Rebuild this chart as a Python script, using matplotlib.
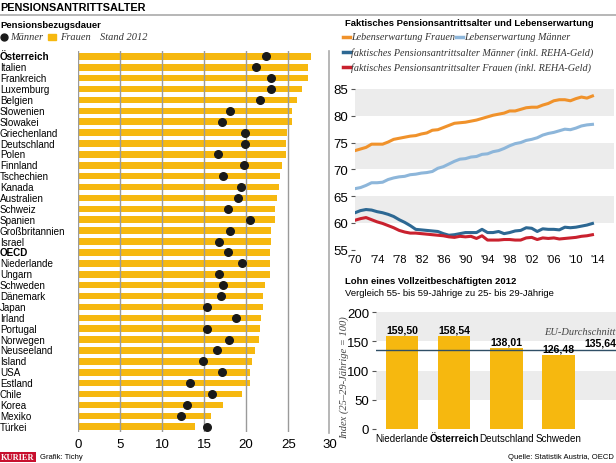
import numpy as np
import matplotlib.pyplot as plt
from matplotlib.patches import Rectangle
from matplotlib.lines import Line2D

# Pensionsbezugsdauer (Stand 2012)
countries = ["Österreich", "Italien", "Frankreich", "Luxemburg", "Belgien", "Slowenien",
             "Slowakei", "Griechenland", "Deutschland", "Polen", "Finnland", "Tschechien",
             "Kanada", "Australien", "Schweiz", "Spanien", "Großbritannien", "Israel",
             "OECD", "Niederlande", "Ungarn", "Schweden", "Dänemark", "Japan", "Irland",
             "Portugal", "Norwegen", "Neuseeland", "Island", "USA", "Estland", "Chile",
             "Korea", "Mexiko", "Türkei"]
frauen = [27.7, 27.4, 27.3, 26.6, 26.0, 25.5, 25.4, 24.8, 24.7, 24.7, 24.3, 24.0,
          23.9, 23.7, 23.4, 23.4, 23.0, 23.0, 22.8, 22.8, 22.8, 22.3, 22.0, 22.0, 21.8,
          21.6, 21.5, 21.0, 20.7, 20.5, 20.5, 19.5, 17.3, 15.8, 13.9]
maenner = [22.4, 21.2, 22.9, 22.9, 21.6, 18.1, 17.1, 19.9, 19.9, 16.7, 19.8, 17.2,
           19.4, 19.0, 17.9, 20.5, 18.1, 16.8, 17.9, 19.5, 16.8, 17.3, 17.0, 15.4, 18.8,
           15.4, 18.0, 16.6, 14.9, 17.1, 13.3, 15.9, 13.0, 12.3, 15.3]

# Faktisches Pensionsantrittsalter und Lebenserwartung, 1970-2013
years = list(range(1970, 2014))
lebenserw_frauen = [73.5, 73.8, 74.1, 74.7, 74.7, 74.7, 75.1, 75.6, 75.8, 76.0, 76.2, 76.3,
                    76.6, 76.8, 77.3, 77.4, 77.8, 78.2, 78.6, 78.7, 78.8, 79.0, 79.2, 79.5,
                    79.8, 80.1, 80.3, 80.5, 80.9, 80.9, 81.2, 81.5, 81.6, 81.6, 82.0, 82.3,
                    82.8, 83.0, 83.0, 82.8, 83.2, 83.5, 83.3, 83.7]
lebenserw_maenner = [66.4, 66.6, 67.0, 67.5, 67.5, 67.6, 68.1, 68.4, 68.6, 68.7, 69.0, 69.1,
                     69.3, 69.4, 69.6, 70.2, 70.5, 71.0, 71.5, 71.9, 72.0, 72.3, 72.4, 72.8,
                     72.9, 73.3, 73.5, 73.9, 74.4, 74.8, 75.0, 75.4, 75.6, 75.9, 76.4, 76.7,
                     76.9, 77.2, 77.5, 77.4, 77.7, 78.1, 78.3, 78.4]
antritt_maenner = [61.9, 62.3, 62.5, 62.4, 62.1, 61.9, 61.6, 61.2, 60.6, 60.1, 59.5, 58.8,
                   58.7, 58.6, 58.5, 58.4, 58.0, 57.7, 57.8, 58.0, 58.2, 58.2, 58.2, 58.8,
                   58.2, 58.2, 58.4, 58.0, 58.2, 58.5, 58.6, 59.1, 59.0, 58.4, 58.9, 58.8,
                   58.8, 58.7, 59.2, 59.1, 59.2, 59.4, 59.6, 59.9]
antritt_frauen = [60.5, 60.8, 61.0, 60.6, 60.2, 59.9, 59.5, 59.1, 58.6, 58.3, 58.1, 58.1,
                  58.0, 57.9, 57.8, 57.7, 57.6, 57.4, 57.3, 57.5, 57.4, 57.5, 57.1, 57.6,
                  56.8, 56.8, 56.8, 56.9, 56.9, 56.8, 56.8, 57.2, 57.3, 56.9, 57.2, 57.1,
                  57.2, 57.0, 57.1, 57.2, 57.3, 57.5, 57.6, 57.8]
year_ticks = list(range(1970, 2015, 4))

# Lohn eines Vollzeitbeschaeftigten 2012
lohn_laender = ["Niederlande", "Österreich", "Deutschland", "Schweden"]
lohn_index = [159.50, 158.54, 138.01, 126.48]
eu_schnitt = 135.64

YELLOW = "#F6B80F"
GRID = "#9a9a9a"
BAND = "#ececec"
NARROW = ["DejaVu Sans Condensed", "Liberation Sans Narrow", "Liberation Sans"]
SERIF = ["Liberation Serif", "DejaVu Serif"]
plt.rcParams["font.family"] = NARROW

W, H = 616, 464
fig = plt.figure(figsize=(6.16, 4.64), dpi=100)


def fx(px):
    return px / W


def fy(py):
    return 1 - py / H


def txt(x, y, s, **kw):
    fig.text(fx(x), fy(y), s, **kw)


# header
txt(0, 8, "PENSIONSANTRITTSALTER", fontsize=7.8, fontweight="bold", va="center")
fig.add_artist(Line2D([0, 1], [fy(16), fy(16)], color="#aaaaaa", lw=1.2))
fig.add_artist(Line2D([fx(329), fx(329)], [fy(52), fy(434)], color="#aaaaaa", lw=1.2))

# ---------------- left: Pensionsbezugsdauer ----------------
txt(0, 26, "Pensionsbezugsdauer", fontsize=6.8, fontweight="bold", va="center")
fig.add_artist(Line2D([fx(4)], [fy(38)], marker="o", ms=5, color="#1a1a1a"))
txt(10, 38, "Männer", fontsize=7.5, style="italic", family=SERIF, color="#333333", va="center")
fig.add_artist(Rectangle((fx(48), fy(41)), fx(8), 6 / H, color=YELLOW))
txt(60, 38, "Frauen", fontsize=7.5, style="italic", family=SERIF, color="#333333", va="center")
txt(100, 38, "Stand 2012", fontsize=7.5, style="italic", family=SERIF, color="#333333", va="center")

ax1 = fig.add_axes([fx(77.7), fy(433.2), fx(252.6), (433.2 - 51.9) / H])
ypos = np.arange(len(countries))
ax1.barh(ypos, frauen, height=0.6, color=YELLOW, zorder=1)
for v in [0, 5, 10, 15, 20, 25]:
    ax1.axvline(v, color=GRID, lw=1, zorder=2)
ax1.scatter(maenner, ypos, s=30, color="#1a1a1a", zorder=3)
ax1.set_xlim(0, 30)
ax1.set_ylim(len(countries) - 0.5, -0.5)
ax1.set_yticks([])
ax1.set_xticks([0, 5, 10, 15, 20, 25, 30])
ax1.tick_params(axis="x", length=0, labelsize=9.5, pad=4)
for s in ax1.spines.values():
    s.set_visible(False)
for i, c in enumerate(countries):
    bold = c in ("Österreich", "OECD")
    ax1.text(-77.7 / 8.42, i, c, fontsize=7.1, va="center", ha="left",
             fontweight="bold" if bold else "normal", clip_on=False)

# ---------------- right top: lines ----------------
txt(345, 23, "Faktisches Pensionsantrittsalter und Lebenserwartung", fontsize=6.8,
    fontweight="bold", va="center")
legend_items = [
    (345, 38, "#F0922B", "Lebenserwartung Frauen"),
    (458, 38, "#8DB6DA", "Lebenserwartung Männer"),
    (345, 53, "#2D6893", "faktisches Pensionsantrittsalter Männer (inkl. REHA-Geld)"),
    (345, 68, "#C9212E", "faktisches Pensionsantrittsalter Frauen (inkl. REHA-Geld)"),
]
for x, y, c, lab in legend_items:
    fig.add_artist(Line2D([fx(x - 2), fx(x + 5)], [fy(y), fy(y)], color=c, lw=2.5))
    txt(x + 6, y, lab, fontsize=7.3, style="italic", family=SERIF, color="#333333", va="center")

ax2 = fig.add_axes([fx(355), fy(250.7), fx(259), (250.7 - 90) / H])
for lo in [60, 70, 80]:
    ax2.axhspan(lo, lo + 5, color=BAND, lw=0, zorder=0)
ax2.plot(years, lebenserw_frauen, color="#F0922B", lw=2.2)
ax2.plot(years, lebenserw_maenner, color="#8DB6DA", lw=2.2)
ax2.plot(years, antritt_maenner, color="#2D6893", lw=2.2)
ax2.plot(years, antritt_frauen, color="#C9212E", lw=2.2)
ax2.set_xlim(1970, 2016.9)
ax2.set_ylim(55, 85)
ax2.set_yticks([55, 60, 65, 70, 75, 80, 85])
ax2.set_xticks(year_ticks)
ax2.set_xticklabels(["'" + str(y)[2:] for y in year_ticks])
ax2.tick_params(axis="y", length=3, labelsize=9.5, color="#555555", pad=2)
ax2.tick_params(axis="x", length=0, labelsize=8, pad=3)
for s in ax2.spines.values():
    s.set_visible(False)

# ---------------- right bottom: Lohn ----------------
txt(345, 281, "Lohn eines Vollzeitbeschäftigten 2012", fontsize=6.8, fontweight="bold",
    va="center")
txt(345, 294, "Vergleich 55- bis 59-Jährige zu 25- bis 29-Jährige", fontsize=6.8,
    va="center")

ax3 = fig.add_axes([fx(376), fy(430), fx(240), (430 - 313.3) / H])
ax3.axhspan(50, 100, color=BAND, lw=0, zorder=0)
ax3.axhspan(150, 200, color=BAND, lw=0, zorder=0)
xb = np.arange(len(lohn_laender))
ax3.bar(xb, lohn_index, width=0.62, color=YELLOW, zorder=1)
ax3.axhline(eu_schnitt, color="#2f4f66", lw=1, zorder=2)
for i, v in enumerate(lohn_index):
    ax3.text(i, v + 3, f"{v:.2f}".replace(".", ","), ha="center", va="bottom",
             fontsize=7.6, fontweight="bold", zorder=3)
ax3.text(4.1, 160, "EU-Durchschnitt", ha="right", va="bottom", fontsize=7.5, style="italic",
         family=SERIF, color="#444444")
ax3.text(4.1, 139, f"{eu_schnitt:.2f}".replace(".", ","), ha="right", va="bottom",
         fontsize=7.6, fontweight="bold")
ax3.set_xlim(-0.5, 4.1)
ax3.set_ylim(0, 200)
ax3.set_yticks([0, 50, 100, 150, 200])
ax3.set_xticks(xb)
ax3.set_xticklabels(lohn_laender, fontsize=7.1)
ax3.tick_params(axis="y", length=3, labelsize=9.5, color="#555555", pad=2)
ax3.tick_params(axis="x", length=0, pad=3)
ax3.get_xticklabels()[1].set_fontweight("bold")
for s in ax3.spines.values():
    s.set_visible(False)
fig.text(fx(344), fy(378), "Index (25–29-Jährige = 100)", fontsize=7.6, style="italic",
         family=SERIF, color="#444444", rotation=90, ha="center", va="center")

# footer
fig.text(fx(1), fy(458), "KURIER", fontsize=6, fontweight="bold", family=SERIF, color="white",
         va="center", bbox=dict(facecolor="#C8102E", edgecolor="none", pad=1))
txt(40, 458, "Grafik: Tichy", fontsize=5.5, va="center")
txt(614, 458, "Quelle: Statistik Austria, OECD", fontsize=5.5, va="center", ha="right")

fig.savefig("out.png", dpi=100)
